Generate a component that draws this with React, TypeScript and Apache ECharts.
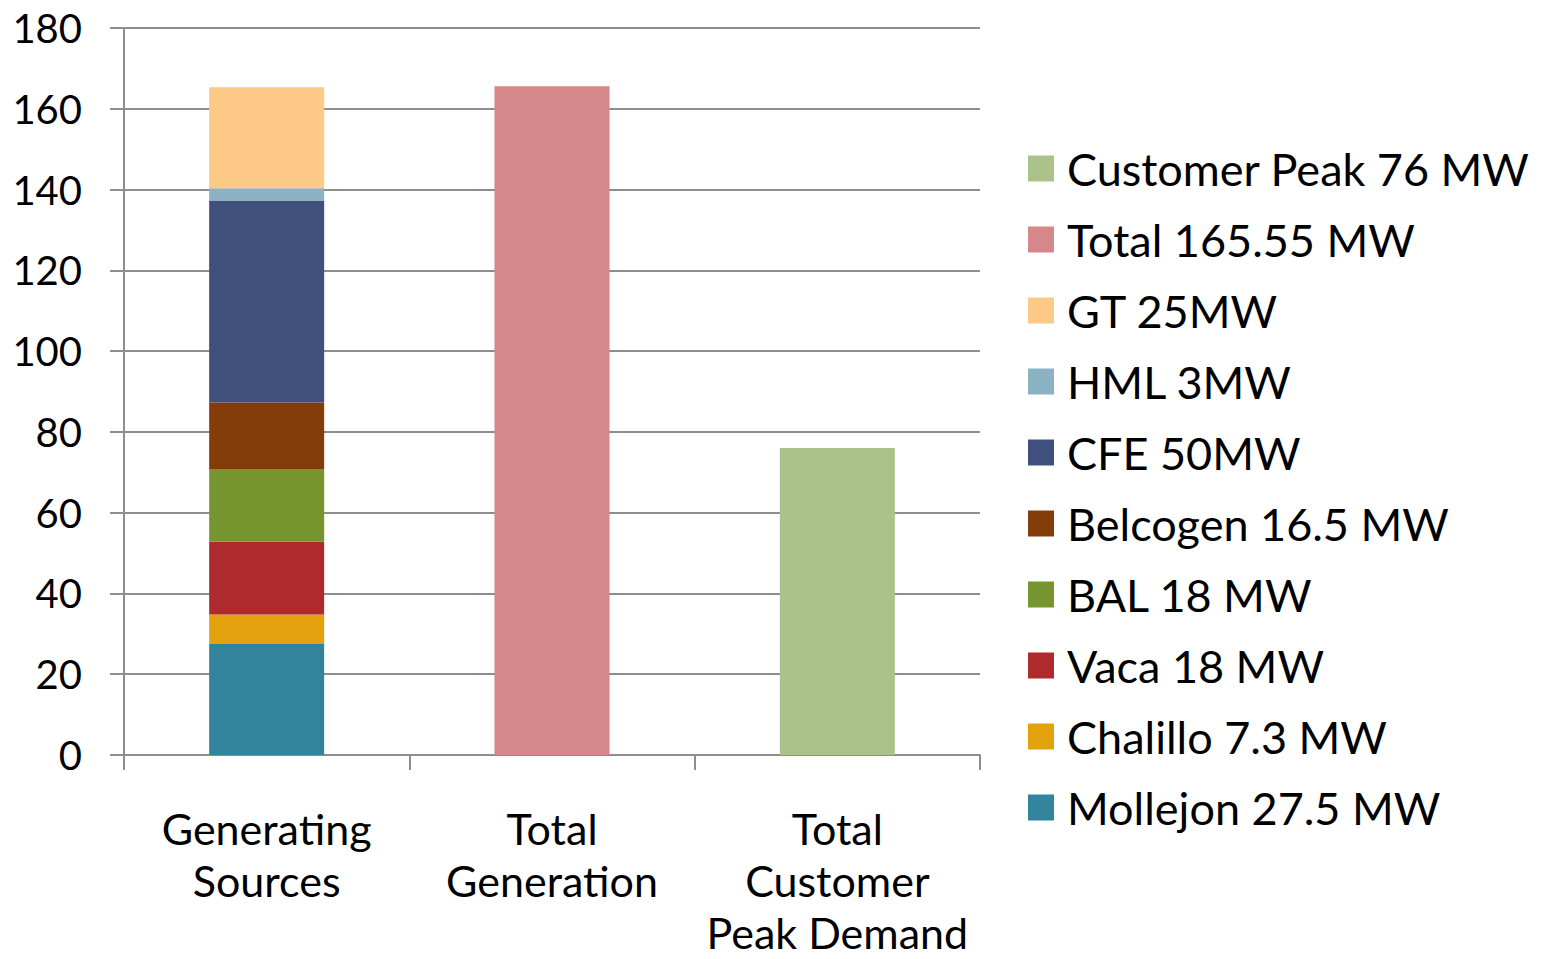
import React, { useEffect, useRef } from "react";
import * as echarts from "echarts";

const categories = ["Generating\nSources", "Total\nGeneration", "Total\nCustomer\nPeak Demand"];
const yTicks = [0, 20, 40, 60, 80, 100, 120, 140, 160, 180];

const sourceNames = [
  "Mollejon 27.5 MW",
  "Chalillo 7.3 MW",
  "Vaca 18 MW",
  "BAL 18 MW",
  "Belcogen 16.5 MW",
  "CFE 50MW",
  "HML 3MW",
  "GT 25MW",
];
const sourceValues = [27.5, 7.3, 18, 18, 16.5, 50, 3, 25];
const sourceColors = ["#31849B", "#E3A20D", "#AF2A2C", "#77952F", "#843C0B", "#3F507D", "#8CB3C3", "#FDC986"];

const totalName = "Total 165.55 MW";
const totalValue = 165.55;
const totalColor = "#D4888A";

const peakName = "Customer Peak 76 MW";
const peakValue = 76;
const peakColor = "#ABC38A";

const FONT = "Lato, 'Open Sans', sans-serif";

export default function App() {
  const ref = useRef<HTMLDivElement>(null);
  useEffect(() => {
    if (!ref.current) return;
    const chart = echarts.init(ref.current, undefined, { renderer: "svg" });
    const series: any[] = [];
    sourceNames.forEach((n, i) => {
      series.push({
        name: n,
        type: "bar",
        stack: "s",
        barWidth: 115,
        itemStyle: { color: sourceColors[i] },
        data: [sourceValues[i], "-", "-"],
      });
    });
    series.push({
      name: totalName,
      type: "bar",
      stack: "s",
      barWidth: 115,
      itemStyle: { color: totalColor },
      data: ["-", totalValue, "-"],
    });
    series.push({
      name: peakName,
      type: "bar",
      stack: "s",
      barWidth: 115,
      itemStyle: { color: peakColor },
      data: ["-", "-", peakValue],
    });
    const legendData = [peakName, totalName, ...sourceNames.slice().reverse()];
    chart.setOption({
      animation: false,
      backgroundColor: "#ffffff",
      textStyle: { fontFamily: FONT },
      grid: {
        left: 124,
        right: 563,
        top: 28,
        bottom: 204,
        containLabel: false,
        outerBoundsMode: "none",
      },
      legend: {
        orient: "vertical",
        left: 1023,
        top: 141,
        itemWidth: 26,
        itemHeight: 26,
        itemGap: 26,
        icon: "rect",
        data: legendData,
        textStyle: { fontSize: 45, fontFamily: FONT, color: "#000", lineHeight: 44, padding: [0, 0, 0, 8] },
        selectedMode: false,
      },
      xAxis: {
        type: "category",
        data: categories,
        axisLine: { lineStyle: { color: "#8E8E8E", width: 2 } },
        axisTick: { show: true, length: 15, lineStyle: { color: "#8E8E8E", width: 2 } },
        axisLabel: { fontSize: 43, color: "#000", lineHeight: 52, margin: 47, fontFamily: FONT, interval: 0 },
      },
      yAxis: {
        type: "value",
        min: 0,
        max: 180,
        interval: 20,
        axisLine: { show: true, lineStyle: { color: "#8E8E8E", width: 2 } },
        axisTick: { show: true, length: 14, lineStyle: { color: "#8E8E8E", width: 2 } },
        splitLine: { show: true, lineStyle: { color: "#8E8E8E", width: 2 } },
        axisLabel: {
          fontSize: 40,
          color: "#000",
          margin: 42,
          fontFamily: FONT,
          formatter: (v: number) => (yTicks.includes(v) ? String(v) : ""),
        },
      },
      series,
    });
    return () => chart.dispose();
  }, []);
  return (
    <div
      ref={ref}
      style={{ position: "fixed", left: 0, top: 0, width: 1543, height: 959 }}
    />
  );
}
